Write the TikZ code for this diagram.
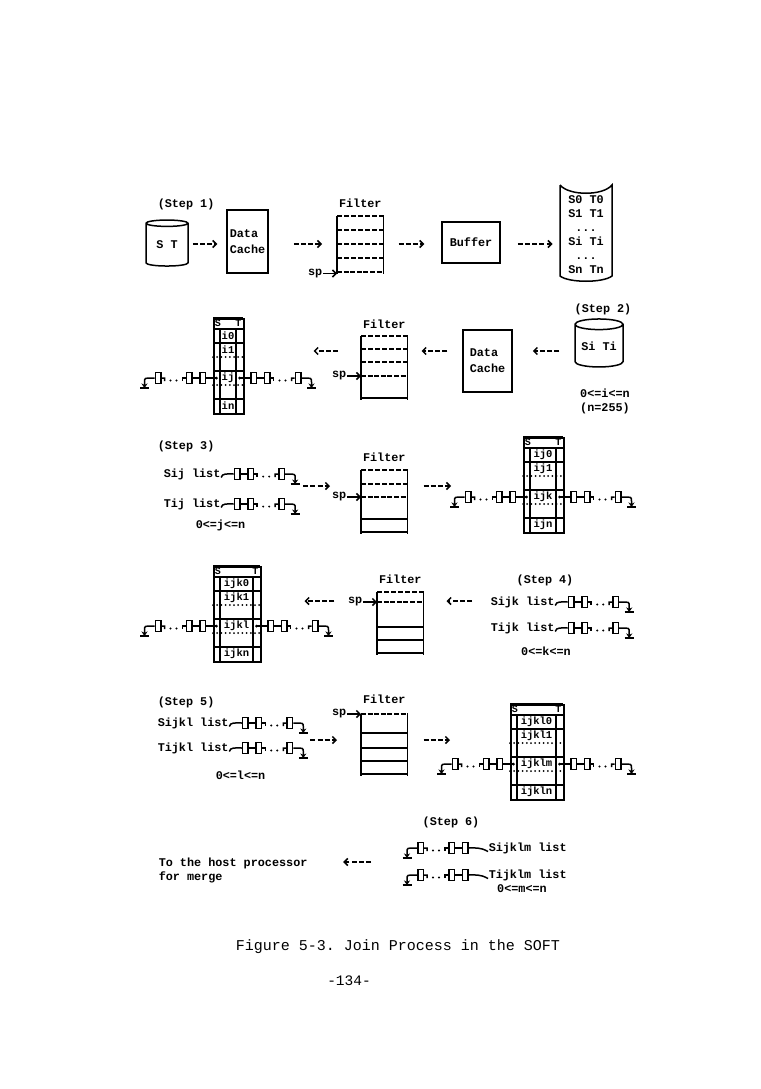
\documentclass[tikz,border=0pt]{standalone}
\usepackage{fontspec}
\setmonofont{Liberation Mono}
\usetikzlibrary{calc,positioning,shapes.geometric,arrows.meta}
\newcommand{\lblfont}{\ttfamily\bfseries\fontsize{11.8}{14}\selectfont}
\newcommand{\cellfont}{\ttfamily\bfseries\fontsize{10.5}{12}\selectfont}
\tikzstyle{lbl} = [font=\lblfont, inner sep=0pt]
\tikzstyle{procbox} = [draw, rectangle, inner sep=2pt, font=\lblfont, align=left]
\tikzstyle{store} = [draw, cylinder, shape border rotate=90, aspect=0.3, inner sep=0pt, font=\lblfont]
\tikzstyle{filt} = [rectangle, minimum width=45pt, inner sep=0pt, anchor=north west]
\tikzstyle{slot} = [dash pattern=on 4.5pt off 2.5pt]
\tikzstyle{spslot} = [line width=2.8pt, dash pattern=on 5pt off 1.6pt]
\tikzstyle{fullslot} = [line width=1.5pt]
\tikzstyle{flow} = [dash pattern=on 5pt off 2.2pt, -{Straight Barb[length=3.5pt,width=7pt]}]
\tikzstyle{spar} = [-{Straight Barb[length=3.5pt,width=7pt]}]
\tikzstyle{link} = [draw, rectangle, minimum width=5.5pt, minimum height=11pt, inner sep=0pt]
\tikzstyle{nil} = [-{Stealth[length=4.5pt,width=6pt]}]
\tikzstyle{tframe} = [draw, rectangle, minimum height=95pt, inner sep=0pt, anchor=north west]
\tikzstyle{tcell} = [font=\cellfont, inner sep=0pt]
\tikzstyle{thead} = [font=\ttfamily\bfseries\fontsize{10}{10}\selectfont, inner sep=0pt]
\tikzstyle{dotrow} = [line width=2pt, line cap=round, dash pattern=on 0pt off 4.2pt]

% one slot line of a filter: style, filter node, offset from its top
\newcommand{\slotline}[3]{\draw [#1] ([yshift=-#3pt]#2.north west) -- ([yshift=-#3pt]#2.north east);}

% linked list body: name, start coordinate, direction (1 right, -1 left)
\newcommand{\chainbody}[3]{%
  \node (#1a) [link] at ($(#2)+(#3*14,0)$) {};
  \node (#1b) [link] at ($(#2)+(#3*27.5,0)$) {};
  \node (#1c) [link] at ($(#2)+(#3*58.5,0)$) {};
  \coordinate (#1g) at ($(#2)+(#3*72,10)$);
  \draw (#1a) -- (#1b) -- ($(#2)+(#3*34,0)$) -- ++(0,3);
  \fill ($(#2)+(#3*40,2.5)$) circle[radius=1.1pt] ($(#2)+(#3*46,2.5)$) circle[radius=1.1pt];
  \draw [nil] ($(#2)+(#3*52,3)$) -- ++(0,-3) -- (#1c) -- ($(#2)+(#3*64,0)$)
        .. controls ($(#2)+(#3*72,0)$) .. ($(#2)+(#3*72,4)$) -- (#1g);
  \draw [line width=1.6pt] ($(#1g)+(-4.5,0)$) -- ($(#1g)+(4.5,0)$);
}
% list hanging on a table pointer
\newcommand{\tabchain}[3]{%
  \chainbody{#1}{#2}{#3}
  \fill (#2) circle[radius=1.5pt];
  \draw (#2) -- (#1a);
}
% list hanging on a text label: name, text node, direction, side, gap
\newcommand{\listchain}[5]{%
  \coordinate (#1s) at ([xshift=#3*#5pt]#2.#4);
  \chainbody{#1}{#1s}{#3}
  \draw ([yshift=-3.5pt]#2.#4) .. controls ($(#1s)+(#3*-1,-1)$) and ($(#1s)+(#3*4,0)$) .. (#1a);
}
% S/T table: name, left, top, middle width, index stem, next index
\newcommand{\jtable}[6]{%
  \pgfmathsetmacro{\tw}{#4+14}
  \node (#1) [tframe, minimum width=\tw pt] at (#2,#3) {};
  \begin{scope}[shift={(#1.north west)}]
    \draw [line width=2.4pt] (0,0) -- (\tw,0);
    \draw (0,11) -- (\tw,11);
    \draw (7,11) -- (7,95) ({\tw-7},11) -- ({\tw-7},95);
    \draw (0,25) -- (\tw,25) (0,53) -- (\tw,53) (0,81) -- (\tw,81);
    \draw [dotrow] (0,39) -- (\tw,39) (0,67) -- (\tw,67);
    \node (#1-S) [thead, anchor=north west] at (1,1) {S};
    \node (#1-T) [thead, anchor=north east] at ({\tw-1},1) {T};
    \node (#1-1) [tcell] at ({7+#4/2},18) {#50};
    \node (#1-2) [tcell] at ({7+#4/2},32) {#51};
    \node (#1-4) [tcell] at ({7+#4/2},60) {#5#6};
    \node (#1-6) [tcell] at ({7+#4/2},88) {#5n};
    \coordinate (#1-l) at (3.5,60);
    \coordinate (#1-r) at ({\tw-3.5},60);
  \end{scope}
  \tabchain{#1l}{#1-l}{-1}
  \tabchain{#1r}{#1-r}{1}
}

\begin{document}
\begin{tikzpicture}[x=1pt, y=-1pt, line width=1.5pt]

            \path [use as bounding box, fill=white] (0,0) rectangle (760,1089);

            %% Step 1

            \node (step1) [lbl, anchor=west] at (157,204) {(Step 1)};
            \node (st) [store, minimum width=42pt, minimum height=46pt] at (167,245) {S T};
            \node (cache1) [procbox, minimum width=41pt, minimum height=63pt] at (247.5,241.5) {Data\\[2pt]Cache};
            \node (f1) [filt, minimum height=56pt] at (337,216) {};
            \node (f1lbl) [lbl, above=7.5pt of f1] {Filter};
            \node (sp1) [lbl, left=14pt of f1.south west] {sp};
            \node (buf) [procbox, minimum width=58pt, minimum height=41pt] at (471,242.5) {Buffer};
            \node (drum) [lbl, align=center] at (586,235) {S0 T0\\S1 T1\\...\\Si Ti\\...\\Sn Tn};

            \draw ([shift={(-26,-50)}]drum.center) -- ([shift={(-26,41)}]drum.center)
                  .. controls +(9,7) and +(-9,7) .. ([shift={(26,41)}]drum.center)
                  -- ([shift={(26,-50)}]drum.center)
                  .. controls +(-9,11) and +(9,11) .. ([shift={(-26,-50)}]drum.center);

            \draw (f1.north west) -- (f1.south west) (f1.north east) -- (f1.south east);
            \slotline{slot}{f1}{0}
            \slotline{slot}{f1}{14}
            \slotline{slot}{f1}{28}
            \slotline{slot}{f1}{42}
            \slotline{spslot}{f1}{56}
            \draw [spar] (sp1) -- (sp1 -| f1.west);

            \coordinate (row1) at (0,244);
            \draw [flow, shorten <=4pt, shorten >=9pt] (st.east |- row1) -- (cache1.west |- row1);
            \draw [flow, shorten <=25pt, shorten >=15pt] (cache1.east |- row1) -- (f1.west |- row1);
            \draw [flow, shorten <=15pt, shorten >=17pt] (f1.east |- row1) -- (buf.west |- row1);
            \draw [flow, shorten <=17pt, shorten >=15pt] (buf.east |- row1) -- (drum.west |- row1);

            %% Step 2

            \node (step2) [lbl] at (603,309) {(Step 2)};
            \node (siti) [store, minimum width=48pt, minimum height=48pt] at (599,346) {Si Ti};
            \node (irange) [lbl, align=center] at (605,401) {0<=i<=n\\(n=255)};
            \node (cache2) [procbox, minimum width=49pt, minimum height=62pt] at (487.5,361) {Data\\[2pt]Cache};
            \node (f2) [filt, minimum height=62pt] at (361,336) {};
            \node (f2lbl) [lbl, above=6.5pt of f2] {Filter};
            \node (sp2) [lbl, left=14pt of f2.north west, yshift=-40pt] {sp};

            \draw (f2.north west) -- (f2.south west) (f2.north east) -- (f2.south east);
            \slotline{slot}{f2}{0}
            \slotline{slot}{f2}{13}
            \slotline{slot}{f2}{26}
            \slotline{spslot}{f2}{40}
            \slotline{fullslot}{f2}{62}
            \draw [spar] (sp2) -- (sp2 -| f2.west);

            \jtable{t2}{213}{318}{16}{i}{j}

            \coordinate (row2) at (0,351);
            \draw [flow, shorten <=15pt, shorten >=20pt] (siti.west |- row2) -- (cache2.east |- row2);
            \draw [flow, shorten <=15pt, shorten >=14pt] (cache2.west |- row2) -- (f2.east |- row2);
            \draw [flow, shorten <=23pt, shorten >=2pt] (f2.west |- row2) -- (t2rg |- row2);

            %% Step 3

            \node (step3) [lbl, anchor=west] at (157,446) {(Step 3)};
            \node (sij) [lbl, anchor=west] at (163,474) {Sij list};
            \node (tij) [lbl, anchor=west] at (163,504) {Tij list};
            \node (jrange) [lbl, anchor=west] at (195,525) {0<=j<=n};
            \listchain{sij}{sij}{1}{east}{2}
            \listchain{tij}{tij}{1}{east}{2}

            \node (f3) [filt, minimum height=62pt] at (361,470) {};
            \node (f3lbl) [lbl, above=7.5pt of f3] {Filter};
            \node (sp3) [lbl, left=14pt of f3.north west, yshift=-27pt] {sp};

            \draw (f3.north west) -- (f3.south west) (f3.north east) -- (f3.south east);
            \slotline{slot}{f3}{0}
            \slotline{slot}{f3}{14}
            \slotline{spslot}{f3}{27}
            \slotline{fullslot}{f3}{49}
            \slotline{fullslot}{f3}{62}
            \draw [spar] (sp3) -- (sp3 -| f3.west);

            \jtable{t3}{523}{437}{26}{ij}{k}

            \coordinate (row3) at (0,486);
            \draw [flow, shorten <=8pt, shorten >=31pt] (sijg |- row3) -- (f3.west |- row3);
            \draw [flow, shorten <=16pt, shorten >=3.5pt] (f3.east |- row3) -- (t3lg |- row3);

            %% Step 4

            \jtable{t4}{213}{566}{33}{ijk}{l}

            \node (f4) [filt, minimum height=61pt] at (377,592) {};
            \node (f4lbl) [lbl, above=7.5pt of f4] {Filter};
            \node (sp4) [lbl, left=14pt of f4.north west, yshift=-10pt] {sp};

            \draw (f4.north west) -- (f4.south west) (f4.north east) -- (f4.south east);
            \slotline{slot}{f4}{0}
            \slotline{spslot}{f4}{10}
            \slotline{fullslot}{f4}{35}
            \slotline{fullslot}{f4}{48}
            \slotline{fullslot}{f4}{61}
            \draw [spar] (sp4) -- (sp4 -| f4.west);

            \node (step4) [lbl] at (545,580) {(Step 4)};
            \node (sijk) [lbl, anchor=west] at (490,602) {Sijk list};
            \node (tijk) [lbl, anchor=west] at (490,628) {Tijk list};
            \node (krange) [lbl] at (546,651) {0<=k<=n};
            \listchain{sijk}{sijk}{1}{east}{2}
            \listchain{tijk}{tijk}{1}{east}{2}

            \coordinate (row4) at (0,601);
            \draw [flow, shorten <=18pt, shorten >=23pt] (sijk.west |- row4) -- (f4.east |- row4);
            \draw [flow, shorten <=13pt, shorten >=43pt] (sp4.west |- row4) -- (t4.east |- row4);

            %% Step 5

            \node (step5) [lbl, anchor=west] at (157,702) {(Step 5)};
            \node (sijkl) [lbl, anchor=west] at (157,723) {Sijkl list};
            \node (tijkl) [lbl, anchor=west] at (157,748) {Tijkl list};
            \node (lrange) [lbl, anchor=west] at (215,775) {0<=l<=n};
            \listchain{sijkl}{sijkl}{1}{east}{2}
            \listchain{tijkl}{tijkl}{1}{east}{2}

            \node (f5) [filt, minimum height=60pt] at (361,714) {};
            \node (f5lbl) [lbl, above=9.5pt of f5] {Filter};
            \node (sp5) [lbl, left=14pt of f5.north west] {sp};

            \draw (f5.north west) -- (f5.south west) (f5.north east) -- (f5.south east);
            \slotline{spslot}{f5}{0}
            \slotline{fullslot}{f5}{19}
            \slotline{fullslot}{f5}{34}
            \slotline{fullslot}{f5}{47}
            \slotline{fullslot}{f5}{60}
            \draw [spar] (sp5) -- (sp5 -| f5.west);

            \jtable{t5}{510}{704}{39}{ijkl}{m}

            \coordinate (row5) at (0,740);
            \draw [flow, shorten <=7pt, shorten >=24pt] (sijklg |- row5) -- (f5.west |- row5);
            \draw [flow, shorten <=16pt, shorten >=5pt] (f5.east |- row5) -- (t5lc |- row5);

            %% Step 6

            \node (step6) [lbl] at (451,822) {(Step 6)};
            \node (sijklm) [lbl, anchor=west] at (488,848) {Sijklm list};
            \node (tijklm) [lbl, anchor=west] at (488,875) {Tijklm list};
            \node (mrange) [lbl] at (522,889) {0<=m<=n};
            \listchain{sijklm}{sijklm}{-1}{west}{9}
            \listchain{tijklm}{tijklm}{-1}{west}{9}

            \node (host) [lbl, anchor=west, align=left] at (158,870) {To the host processor\\for merge};

            \coordinate (row6) at (0,862);
            \draw [flow, shorten <=36pt, shorten >=35pt] (sijklmg |- row6) -- (host.east |- row6);

            %% caption

            \node (caption) [font=\ttfamily\fontsize{15}{18}\selectfont, inner sep=0pt] at (398,947) {Figure 5-3. Join Process in the SOFT};
            \node (page) [font=\ttfamily\fontsize{14.5}{18}\selectfont, inner sep=0pt] at (349,981) {-134-};

        \end{tikzpicture}
\end{document}
